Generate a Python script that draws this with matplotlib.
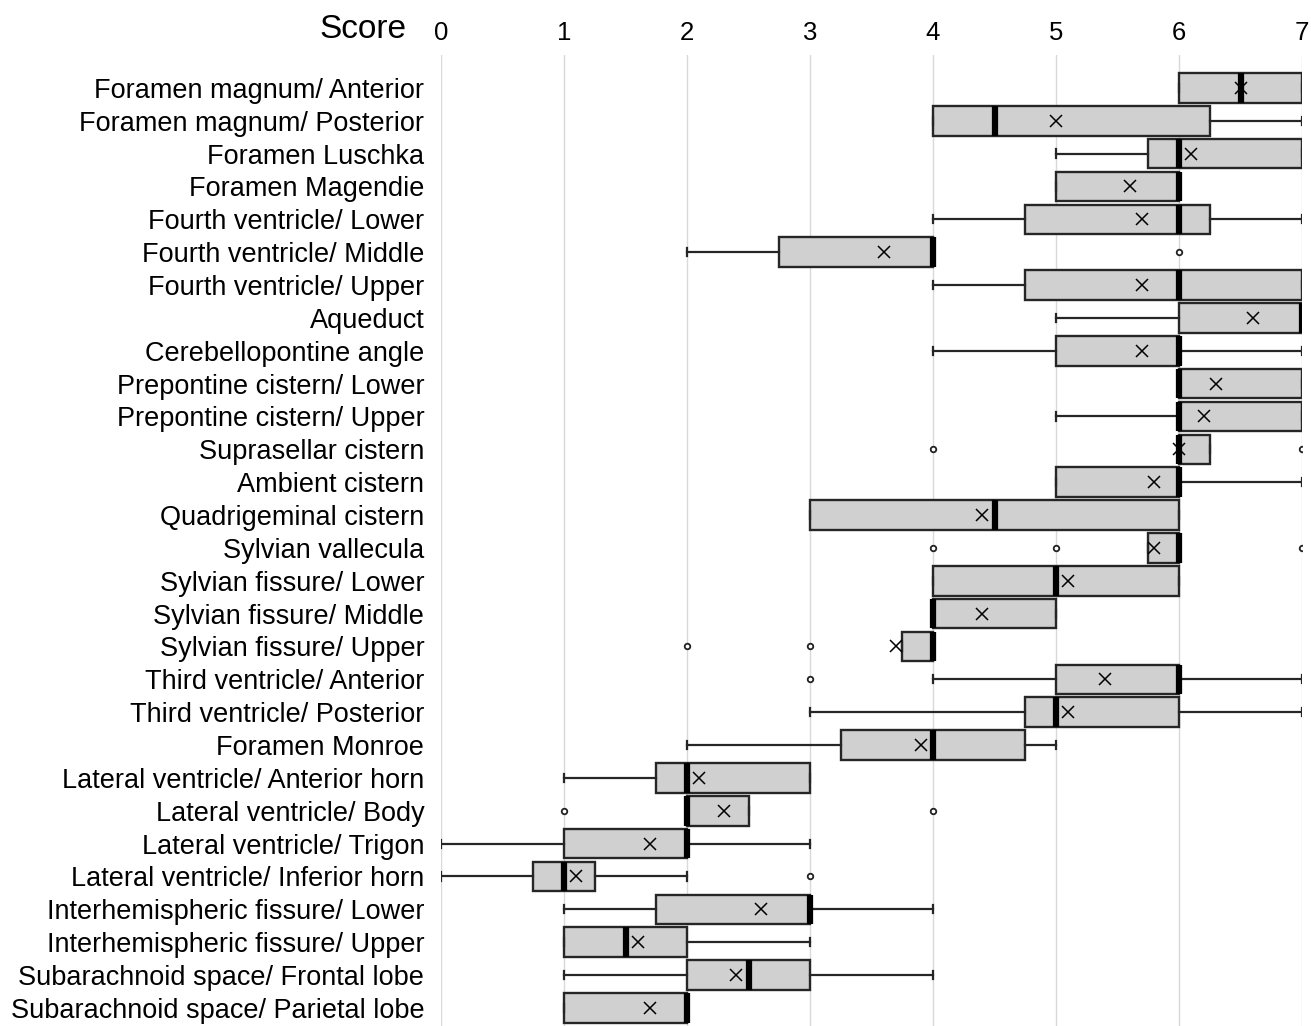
#score box plots per region
import numpy as np
import matplotlib
matplotlib.use("Agg")
from matplotlib import pyplot as plt

plt.rcParams['font.family'] = ['Liberation Sans', 'DejaVu Sans']

regions = ["Foramen magnum/ Anterior", "Foramen magnum/ Posterior", "Foramen Luschka",
           "Foramen Magendie", "Fourth ventricle/ Lower", "Fourth ventricle/ Middle",
           "Fourth ventricle/ Upper", "Aqueduct", "Cerebellopontine angle",
           "Prepontine cistern/ Lower", "Prepontine cistern/ Upper", "Suprasellar cistern",
           "Ambient cistern", "Quadrigeminal cistern", "Sylvian vallecula",
           "Sylvian fissure/ Lower", "Sylvian fissure/ Middle", "Sylvian fissure/ Upper",
           "Third ventricle/ Anterior", "Third ventricle/ Posterior", "Foramen Monroe",
           "Lateral ventricle/ Anterior horn", "Lateral ventricle/ Body",
           "Lateral ventricle/ Trigon", "Lateral ventricle/ Inferior horn",
           "Interhemispheric fissure/ Lower", "Interhemispheric fissure/ Upper",
           "Subarachnoid space/ Frontal lobe", "Subarachnoid space/ Parietal lobe"]

q1 =      [6, 4, 5.75, 5, 4.75, 2.75, 4.75, 6, 5, 6, 6, 6, 5, 3, 5.75, 4, 4, 3.75, 5, 4.75, 3.25,
           1.75, 2, 1, 0.75, 1.75, 1, 2, 1]
median =  [6.5, 4.5, 6, 6, 6, 4, 6, 7, 6, 6, 6, 6, 6, 4.5, 6, 5, 4, 4, 6, 5, 4,
           2, 2, 2, 1, 3, 1.5, 2.5, 2]
q3 =      [7, 6.25, 7, 6, 6.25, 4, 7, 7, 6, 7, 7, 6.25, 6, 6, 6, 6, 5, 4, 6, 6, 4.75,
           3, 2.5, 2, 1.25, 3, 2, 3, 2]
whis_lo = [6, 4, 5, 5, 4, 2, 4, 5, 4, 6, 5, 6, 5, 3, 5.75, 4, 4, 3.75, 4, 3, 2,
           1, 2, 0, 0, 1, 1, 1, 1]
whis_hi = [7, 7, 7, 6, 7, 4, 7, 7, 7, 7, 7, 6.25, 7, 6, 6, 6, 5, 4, 7, 7, 5,
           3, 2.5, 3, 2, 4, 3, 4, 2]
means =   [6.5, 5.0, 6.1, 5.6, 5.7, 3.6, 5.7, 6.6, 5.7, 6.3, 6.2, 6.0, 5.8, 4.4, 5.8, 5.1, 4.4, 3.7,
           5.4, 5.1, 3.9, 2.1, 2.3, 1.7, 1.1, 2.6, 1.6, 2.4, 1.7]
outliers = {5: [6], 11: [4, 7], 14: [4, 5, 7], 17: [2, 3], 18: [3], 22: [1, 4], 24: [3]}

score_ticks = [0, 1, 2, 3, 4, 5, 6, 7]

stats = []
for i in range(len(regions)):
    stats.append({"label": regions[i], "q1": q1[i], "med": median[i], "q3": q3[i],
                  "whislo": whis_lo[i], "whishi": whis_hi[i], "mean": means[i],
                  "fliers": np.array(outliers.get(i, []), dtype=float)})

fig = plt.figure(figsize=(13.11, 10.26), dpi=100)
ax = fig.add_axes([441 / 1311, 0, 861 / 1311, 971 / 1026])

ax.bxp(stats, positions=np.arange(1, len(regions) + 1), vert=False, widths=0.9,
       patch_artist=True, showmeans=True, capwidths=0.25,
       boxprops=dict(facecolor="#d0d0d0", edgecolor="#262626", linewidth=1.7),
       medianprops=dict(color="black", linewidth=4.5, solid_capstyle="butt"),
       whiskerprops=dict(color="#262626", linewidth=1.6),
       capprops=dict(color="#262626", linewidth=1.6),
       meanprops=dict(marker="x", markersize=8.5, markeredgecolor="black", markeredgewidth=1.1),
       flierprops=dict(marker="o", markersize=4, markerfacecolor="white",
                       markeredgecolor="#222222", markeredgewidth=1.3))

ax.set_xlim(0, 7)
ax.set_ylim(29.55, 0)
ax.set_xticks(score_ticks)
ax.set_xticklabels([str(t) for t in score_ticks])
ax.xaxis.tick_top()
ax.tick_params(axis="x", length=0, pad=7, labelsize=18.5)
ax.tick_params(axis="y", length=0, pad=12, labelsize=19.5)
ax.set_yticks(np.arange(1, len(regions) + 1))
ax.set_yticklabels(regions)

for s in ax.spines.values():
    s.set_visible(False)
ax.set_axisbelow(True)
ax.grid(True, axis="x", color="#d9d9d9", linewidth=1)

fig.text(406 / 1311, 1 - 30 / 1026, "Score", fontsize=24, ha="right", va="center")

plt.savefig("out.png", dpi=100)
